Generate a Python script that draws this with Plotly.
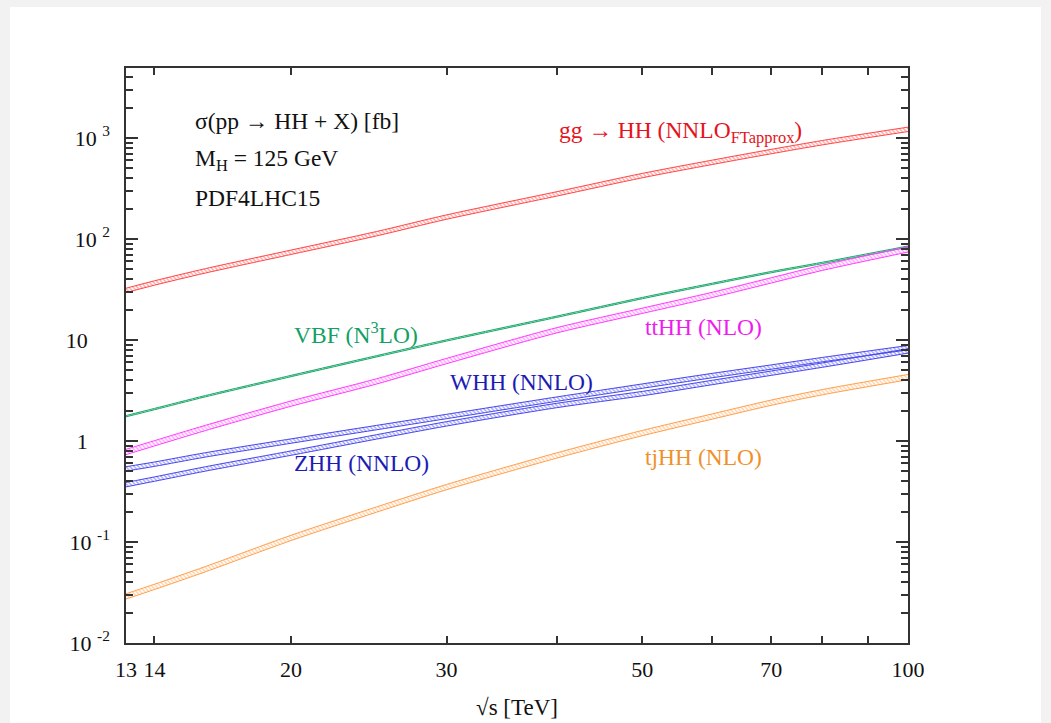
import plotly.graph_objects as go

# Centre-of-mass energy grid [TeV]
sqrt_s = [13, 14, 16, 20, 25, 30, 40, 50, 60, 70, 80, 100]

# Central cross sections [fb]
xs_gghh = [31.0, 36.7, 48.5, 74, 113, 165, 280, 425, 575, 735, 900, 1220]
xs_vbf = [1.76, 2.07, 2.78, 4.4, 6.9, 9.9, 17, 26, 36, 47, 58, 84]
xs_tthh = [0.78, 0.95, 1.35, 2.35, 3.9, 6.2, 12.5, 19.5, 28, 39, 52, 79]
xs_whh = [0.53, 0.59, 0.73, 1.0, 1.36, 1.75, 2.6, 3.5, 4.45, 5.4, 6.4, 8.4]
xs_zhh = [0.37, 0.42, 0.53, 0.76, 1.1, 1.48, 2.25, 2.95, 3.8, 4.7, 5.65, 7.8]
xs_tjhh = [0.029, 0.036, 0.054, 0.11, 0.21, 0.35, 0.72, 1.2, 1.75, 2.4, 3.05, 4.3]

# Relative half-width of each uncertainty band
unc_gghh = 0.05
unc_vbf = 0.015
unc_tthh = 0.06
unc_whh = 0.05
unc_zhh = 0.05
unc_tjhh = 0.06

# Axis ticks
x_tickvals = [13, 14, 20, 30, 40, 50, 60, 70, 80, 90, 100]
x_ticktext = ["13", "14", "20", "30", "", "50", "", "70", "", "", "100"]
y_tickvals = [0.01, 0.1, 1, 10, 100, 1000]
y_ticktext = ["10\u00a0<sup>-2</sup>", "10\u00a0<sup>-1</sup>", "1\u00a0\u00a0\u00a0\u00a0",
              "10\u00a0\u00a0\u00a0\u00a0", "10\u00a0<sup>2</sup>", "10\u00a0<sup>3</sup>"]
y_minor = [k * 10.0 ** d for d in range(-2, 4) for k in range(2, 10) if k * 10.0 ** d < 4900]

SERIF = "Liberation Serif, Times New Roman, serif"

bands = [
    (xs_gghh, unc_gghh, "#ff4646"),
    (xs_vbf, unc_vbf, "#1aa86a"),
    (xs_tthh, unc_tthh, "#ff3cff"),
    (xs_whh, unc_whh, "#4646ee"),
    (xs_zhh, unc_zhh, "#4646ee"),
    (xs_tjhh, unc_tjhh, "#ffa04c"),
]

fig = go.Figure()
for values, unc, color in bands:
    lower = [v * (1 - unc) for v in values]
    upper = [v * (1 + unc) for v in values]
    line = dict(color=color, width=1, shape="spline", smoothing=0.8)
    fig.add_trace(go.Scatter(x=sqrt_s, y=lower, mode="lines", line=line,
                             hoverinfo="skip", showlegend=False))
    fig.add_trace(go.Scatter(x=sqrt_s, y=upper, mode="lines", line=line,
                             fill="tonexty", fillcolor="rgba(255,255,255,0)",
                             fillpattern=dict(shape="\\", fgcolor=color, bgcolor="rgba(255,255,255,0)",
                                              size=3, solidity=0.45),
                             hoverinfo="skip", showlegend=False))

# Page card behind the plot
fig.add_shape(type="rect", xref="paper", yref="paper", x0=-0.1483, x1=1.170, y0=-0.139, y1=1.106,
              fillcolor="white", line=dict(width=0), layer="below")

labels = [
    ("\u03c3(pp \u2192 HH + X) [fb]", 0.0857, 0.908, "#111111"),
    ("M<sub>H</sub> = 125 GeV", 0.0857, 0.840, "#111111"),
    ("PDF4LHC15", 0.0857, 0.774, "#111111"),
    ("gg \u2192 HH (NNLO<sub>FTapprox</sub>)", 0.551, 0.889, "#e5141c"),
    ("VBF (N<sup>3</sup>LO)", 0.2123, 0.539, "#12a064"),
    ("ttHH (NLO)", 0.661, 0.5496, "#ee1cee"),
    ("WHH (NNLO)", 0.412, 0.454, "#1c1cb4"),
    ("ZHH (NNLO)", 0.2123, 0.313, "#1c1cb4"),
    ("tjHH (NLO)", 0.661, 0.3235, "#f0902c"),
]
for text, xp, yp, color in labels:
    fig.add_annotation(text=text, x=xp, y=yp, xref="paper", yref="paper", xanchor="left", yanchor="middle",
                       showarrow=False, font=dict(family=SERIF, size=23.5, color=color))

axis_common = dict(showline=True, linecolor="#333333", linewidth=1.5, mirror="allticks",
                   ticks="inside", tickcolor="#333333", tickwidth=1.5, showgrid=False, zeroline=False,
                   automargin=False, tickfont=dict(family=SERIF, size=22, color="#111111"))

fig.update_xaxes(type="log", range=[1.11394, 2.0], tickmode="array", tickvals=x_tickvals, ticktext=x_ticktext,
                 ticklen=7, ticklabelstandoff=6,
                 title=dict(text="\u221as [TeV]", font=dict(family=SERIF, size=23, color="#111111"), standoff=18),
                 **axis_common)
fig.update_yaxes(type="log", range=[-2, 3.693], tickmode="array", tickvals=y_tickvals, ticktext=y_ticktext,
                 ticklen=12, ticklabelstandoff=10,
                 minor=dict(tickmode="array", tickvals=y_minor, ticks="inside", ticklen=7,
                            tickcolor="#333333", tickwidth=1.5),
                 **axis_common)

fig.update_layout(width=1051, height=723, margin=dict(l=126, r=143, t=68, b=80, autoexpand=False),
                  paper_bgcolor="#f2f2f2", plot_bgcolor="white", showlegend=False)

fig.write_html("out.html")
